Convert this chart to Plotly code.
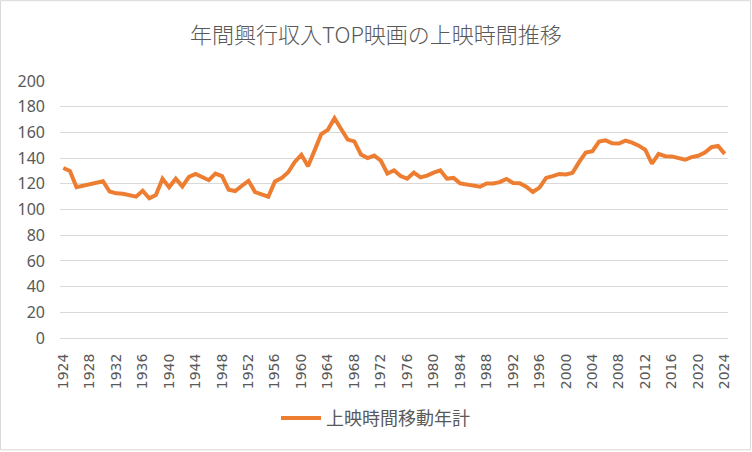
import plotly.graph_objects as go

years = list(range(1924, 2025))
runtime_moving = [
    132.3, 130.0, 117.4, 118.7, 119.7, 121.0, 122.0, 114.0, 112.6, 112.3,
    110.8, 110.0, 114.6, 108.7, 111.3, 124.0, 117.4, 124.0, 118.0, 125.4,
    127.7, 125.0, 122.8, 128.0, 126.0, 115.4, 114.4, 118.5, 122.3, 113.6,
    111.8, 110.0, 121.8, 124.4, 129.0, 137.0, 142.6, 133.6, 146.0, 158.7,
    162.0, 171.0, 162.6, 154.4, 153.0, 142.8, 140.0, 142.0, 138.0, 128.0,
    130.5, 126.0, 124.0, 128.7, 125.0, 126.4, 128.7, 130.5, 124.0, 124.6,
    120.3, 119.2, 118.7, 117.7, 120.3, 120.3, 121.3, 123.8, 120.6, 120.5,
    117.7, 113.6, 117.0, 124.6, 126.0, 127.7, 127.2, 128.5, 137.0, 144.4,
    145.4, 152.8, 153.8, 151.5, 151.3, 153.6, 152.0, 149.7, 146.4, 135.6,
    143.3, 141.5, 141.3, 139.7, 138.7, 140.8, 141.8, 144.4, 148.5, 149.5,
    143.3,
]
x_tick_years = list(range(1924, 2025, 4))
x_tick_labels = [str(y) for y in x_tick_years]
y_ticks = list(range(0, 201, 20))

title_text = "年間興行収入TOP映画の上映時間推移"
series_name = "上映時間移動年計"

W, H = 752, 452
ml, mr, mt, mb = 60, 24, 81, 113.5
pw, ph = W - ml - mr, H - mt - mb

fig = go.Figure()
fig.add_trace(go.Scatter(
    x=years, y=runtime_moving, mode="lines", name=series_name,
    line=dict(color="#ED7D31", width=4),
))

fig.update_layout(
    width=W, height=H,
    margin=dict(l=ml, r=mr, t=mt, b=mb),
    paper_bgcolor="white", plot_bgcolor="white",
    title=dict(text=title_text, x=0.5, xanchor="center", y=1 - 35 / H, yanchor="middle",
               font=dict(family="Noto Sans CJK JP", size=22, color="#595959", weight=300)),
    showlegend=True,
    legend=dict(orientation="h", x=(276 - ml) / pw, xanchor="left",
                y=-(419 - (H - mb)) / ph, yanchor="middle",
                font=dict(family="Noto Sans CJK JP", size=18, color="#595959"),
                itemwidth=40),
    xaxis=dict(range=[1923.5, 2024.5], tickmode="array", tickvals=x_tick_years,
               ticktext=x_tick_labels, tickangle=-90, showgrid=False, zeroline=False,
               showline=True, linecolor="#d9d9d9", linewidth=1,
               ticks="", ticklabelstandoff=9,
               tickfont=dict(family="DejaVu Sans", size=14, color="#595959")),
    yaxis=dict(range=[0, 200], tickmode="array", tickvals=y_ticks,
               showgrid=True, gridcolor="#d9d9d9", gridwidth=1, zeroline=False,
               showline=False, ticks="", ticklabelstandoff=14,
               tickfont=dict(family="Noto Sans", size=16, color="#595959")),
)

# chart border
fig.add_shape(type="rect", xref="paper", yref="paper",
              x0=(0.5 - ml) / pw, x1=(W - 1.5 - ml) / pw,
              y0=-(H - 1.5 - (H - mb)) / ph, y1=(H - mb - 0.5) / ph,
              line=dict(color="#d9d9d9", width=1), fillcolor="rgba(0,0,0,0)", layer="below")

fig.write_html("out.html", config={"displayModeBar": False},
               post_script="document.body.style.margin='0';")
